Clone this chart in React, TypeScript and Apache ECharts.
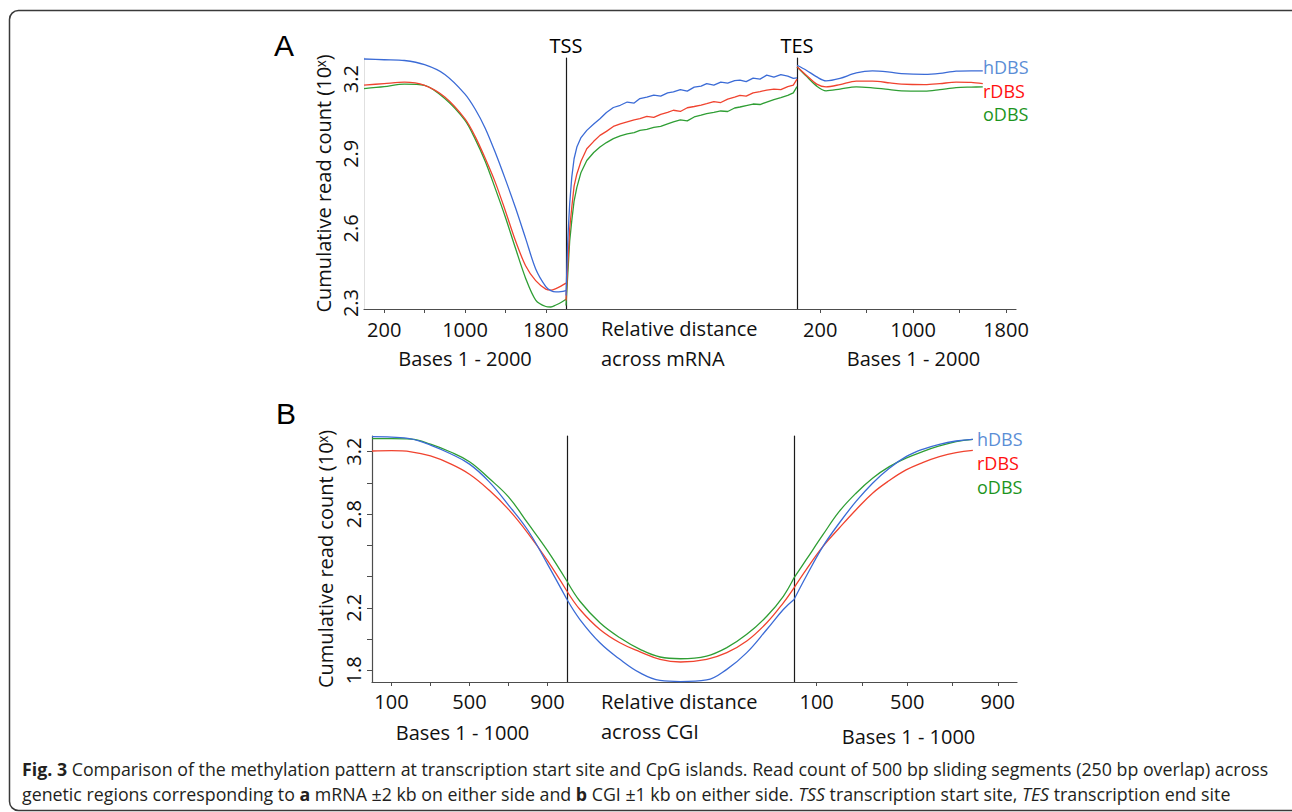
import React, { useEffect, useRef } from "react";
import * as echarts from "echarts";

const FONT = "'Open Sans', sans-serif";

const seriesNames = ["hDBS", "rDBS", "oDBS"];
const lineColors = ["#3b6bd6", "#f0432f", "#2f9e34"];
const labelColors = ["#5b8ed6", "#ff1010", "#1d951d"];

// ---------- Panel A: mRNA ±2 kb ----------
const aTicks = [200, 600, 1000, 1400, 1800];
const aTickLabels = [200, 1000, 1800];
const aYLabels = [2.3, 2.6, 2.9, 3.2];

const aLeftBases = [0, 200, 400, 600, 800, 1000, 1100, 1200, 1300, 1400, 1500, 1600, 1700, 1800, 1850, 1900, 1950, 2000];
const aLeftH = [3.281, 3.278, 3.275, 3.258, 3.219, 3.14, 3.08, 3.003, 2.905, 2.797, 2.683, 2.56, 2.437, 2.366, 2.35, 2.345, 2.346, 2.35];
const aLeftR = [3.176, 3.182, 3.188, 3.175, 3.128, 3.04, 2.97, 2.882, 2.785, 2.67, 2.55, 2.45, 2.39, 2.356, 2.352, 2.358, 2.368, 2.38];
const aLeftO = [3.162, 3.17, 3.18, 3.175, 3.122, 3.034, 2.96, 2.87, 2.76, 2.645, 2.52, 2.4, 2.312, 2.286, 2.284, 2.292, 2.302, 2.315];

const aMidRel = [0, 0.008, 0.016, 0.025, 0.035, 0.047, 0.065, 0.09, 0.12, 0.147, 0.175, 0.205, 0.235, 0.265, 0.295, 0.32, 0.35, 0.38, 0.41, 0.44, 0.465, 0.495, 0.525, 0.555, 0.585, 0.609, 0.64, 0.67, 0.7, 0.73, 0.753, 0.78, 0.81, 0.84, 0.869, 0.9, 0.93, 0.96, 0.984, 1.0];
const aMidH = [2.33, 2.56, 2.7, 2.806, 2.88, 2.927, 2.965, 2.994, 3.02, 3.041, 3.066, 3.086, 3.095, 3.108, 3.104, 3.122, 3.128, 3.136, 3.132, 3.145, 3.149, 3.158, 3.152, 3.168, 3.172, 3.182, 3.176, 3.188, 3.184, 3.194, 3.196, 3.19, 3.204, 3.2, 3.216, 3.208, 3.218, 3.212, 3.203, 3.205];
const aMidR = [2.31, 2.46, 2.6, 2.685, 2.77, 2.819, 2.87, 2.92, 2.95, 2.974, 2.99, 3.01, 3.02, 3.028, 3.036, 3.041, 3.05, 3.046, 3.058, 3.066, 3.075, 3.07, 3.085, 3.09, 3.096, 3.102, 3.11, 3.106, 3.12, 3.128, 3.135, 3.132, 3.145, 3.15, 3.156, 3.16, 3.158, 3.17, 3.176, 3.2];
const aMidO = [2.29, 2.42, 2.55, 2.631, 2.71, 2.765, 2.825, 2.873, 2.905, 2.927, 2.945, 2.961, 2.972, 2.98, 2.985, 2.994, 2.998, 3.006, 3.01, 3.02, 3.028, 3.036, 3.032, 3.048, 3.055, 3.061, 3.066, 3.072, 3.07, 3.084, 3.088, 3.094, 3.1, 3.098, 3.108, 3.118, 3.126, 3.135, 3.145, 3.17];

const aRightBases = [0, 80, 170, 250, 370, 510, 650, 800, 900, 1100, 1230, 1370, 1500, 1600];
const aRightH = [3.256, 3.236, 3.209, 3.193, 3.203, 3.225, 3.233, 3.228, 3.222, 3.219, 3.223, 3.232, 3.233, 3.233];
const aRightR = [3.25, 3.216, 3.18, 3.169, 3.178, 3.192, 3.192, 3.185, 3.18, 3.178, 3.182, 3.188, 3.187, 3.182];
const aRightO = [3.25, 3.212, 3.172, 3.153, 3.16, 3.169, 3.165, 3.158, 3.153, 3.152, 3.158, 3.166, 3.168, 3.169];

// ---------- Panel B: CGI ±1 kb ----------
const bTicks = [100, 300, 500, 700, 900];
const bTickLabels = [100, 500, 900];
const bYTicks = [1.8, 2.0, 2.2, 2.4, 2.6, 2.8, 3.0, 3.2];
const bYLabels = [1.8, 2.2, 2.8, 3.2];

const bLeftBases = [0, 100, 200, 300, 400, 500, 600, 700, 800, 900, 1000];
const bLeftH = [3.296, 3.293, 3.281, 3.242, 3.188, 3.12, 3.008, 2.858, 2.695, 2.48, 2.253];
const bLeftR = [3.204, 3.206, 3.199, 3.172, 3.123, 3.055, 2.954, 2.83, 2.677, 2.502, 2.306];
const bLeftO = [3.283, 3.283, 3.28, 3.248, 3.199, 3.135, 3.029, 2.91, 2.74, 2.566, 2.37];

const bMidRel = [0, 0.057, 0.145, 0.233, 0.322, 0.41, 0.5, 0.615, 0.704, 0.792, 0.88, 0.953, 1.0];
const bMidH = [2.253, 2.125, 1.976, 1.87, 1.783, 1.735, 1.728, 1.738, 1.806, 1.913, 2.061, 2.189, 2.253];
const bMidR = [2.306, 2.189, 2.061, 1.976, 1.918, 1.87, 1.853, 1.87, 1.913, 1.987, 2.104, 2.232, 2.328];
const bMidO = [2.37, 2.242, 2.104, 2.008, 1.934, 1.885, 1.874, 1.891, 1.945, 2.03, 2.146, 2.274, 2.392];

const bRightBases = [0, 54, 128, 200, 274, 347, 421, 495, 568, 642, 716, 790];
const bRightH = [2.253, 2.402, 2.593, 2.743, 2.881, 2.998, 3.094, 3.168, 3.215, 3.247, 3.268, 3.279];
const bRightR = [2.328, 2.445, 2.593, 2.711, 2.828, 2.934, 3.015, 3.083, 3.13, 3.168, 3.194, 3.208];
const bRightO = [2.392, 2.508, 2.668, 2.817, 2.934, 3.03, 3.104, 3.158, 3.2, 3.236, 3.264, 3.279];

const yName = "Cumulative read count (10\u02e3)";

const pairs = (xs: number[], ys: number[]) => xs.map((x, i) => [x, ys[i]]);

function lineSeries(idx: number, xs: number[], ys: number[][], smooth: boolean | number) {
  return [2, 1, 0].map((k) => ({
    type: "line",
    name: seriesNames[k],
    xAxisIndex: idx,
    yAxisIndex: idx,
    data: pairs(xs, ys[k]),
    showSymbol: false,
    symbol: "none",
    smooth,
    lineStyle: { color: lineColors[k], width: 1.3 },
    itemStyle: { color: lineColors[k] },
    silent: true,
  }));
}

const txt = (extra: any = {}) => ({ fontSize: 20, color: "#111", fontFamily: FONT, ...extra });

function baseXAxis(gridIndex: number, min: number, max: number, ticks: number[] | null, labels: number[] | null, name?: string, pad?: number[], gap?: number, margin?: number) {
  return {
    type: "value",
    gridIndex,
    min,
    max,
    axisLine: { show: true, lineStyle: { color: "#4d4d4d", width: 1.2 } },
    axisTick: ticks ? { show: true, customValues: ticks, length: 4, lineStyle: { color: "#4d4d4d" } } : { show: false },
    axisLabel: labels
      ? { show: true, customValues: labels, margin: margin ?? 9, formatter: (v: number) => String(Math.round(v)), ...txt() }
      : { show: false },
    splitLine: { show: false },
    name: name || "",
    nameLocation: "middle",
    nameGap: gap ?? 38,
    nameTextStyle: txt({ padding: pad || [0, 0, 0, 0] }),
  };
}

function dividerYAxis(gridIndex: number, min: number, max: number, name?: string) {
  return {
    type: "value",
    gridIndex,
    min,
    max,
    axisLine: { show: true, lineStyle: { color: "#1a1a1a", width: 1.2 } },
    axisTick: { show: false },
    axisLabel: { show: false },
    splitLine: { show: false },
    name: name || "",
    nameLocation: "end",
    nameGap: 3,
    nameTextStyle: txt({ color: "#000" }),
  };
}

const A_MIN = 2.276, A_MAX = 3.285;
const B_MIN = 1.725, B_MAX = 3.3;

export default function App() {
  const ref = useRef<HTMLDivElement>(null);
  useEffect(() => {
    if (!ref.current) return;
    const chart = echarts.init(ref.current, undefined, { renderer: "svg" });
    const option: any = {
      animation: false,
      backgroundColor: "#ffffff",
      grid: [
        { left: 364, top: 58, width: 202, height: 251 },
        { left: 566, top: 58, width: 231, height: 251 },
        { left: 797, top: 58, width: 219, height: 251 },
        { left: 372, top: 436, width: 195, height: 246 },
        { left: 567, top: 436, width: 227, height: 246 },
        { left: 794, top: 436, width: 223, height: 246 },
      ],
      xAxis: [
        baseXAxis(0, 0, 2000, aTicks, aTickLabels, "Bases 1 - 2000", [0, 0, 0, 0], 39, 10),
        baseXAxis(1, 0, 1, null, null),
        baseXAxis(2, 0, 1886, aTicks, aTickLabels, "Bases 1 - 2000", [0, 0, 0, 14], 39, 10),
        baseXAxis(3, 0, 1000, bTicks, bTickLabels, "Bases 1 - 1000", [0, 14, 0, 0], 40, 9),
        baseXAxis(4, 0, 1, null, null),
        baseXAxis(5, 0, 985, bTicks, bTickLabels, "Bases 1 - 1000", [4, 0, 0, 6], 40, 9),
      ],
      yAxis: [
        {
          type: "value",
          gridIndex: 0,
          min: A_MIN,
          max: A_MAX,
          axisLine: { show: true, lineStyle: { color: "#e0e0e0", width: 1 } },
          axisTick: { show: false },
          axisLabel: { customValues: aYLabels, rotate: 90, margin: 4, formatter: (v: number) => v.toFixed(1), ...txt() },
          splitLine: { show: false },
          name: yName,
          nameLocation: "middle",
          nameRotate: 90,
          nameGap: 31,
          nameTextStyle: txt(),
        },
        dividerYAxis(1, A_MIN, A_MAX, "TSS"),
        dividerYAxis(2, A_MIN, A_MAX, "TES"),
        {
          type: "value",
          gridIndex: 3,
          min: B_MIN,
          max: B_MAX,
          axisLine: { show: true, lineStyle: { color: "#4d4d4d", width: 1.2 } },
          axisTick: { show: true, customValues: bYTicks, length: 5, lineStyle: { color: "#4d4d4d" } },
          axisLabel: { customValues: bYLabels, rotate: 90, margin: 9, formatter: (v: number) => v.toFixed(1), ...txt() },
          splitLine: { show: false },
          name: yName,
          nameLocation: "middle",
          nameRotate: 90,
          nameGap: 37,
          nameTextStyle: txt(),
        },
        dividerYAxis(4, B_MIN, B_MAX),
        dividerYAxis(5, B_MIN, B_MAX),
      ],
      series: [
        ...lineSeries(0, aLeftBases, [aLeftH, aLeftR, aLeftO], 0.3),
        ...lineSeries(1, aMidRel, [aMidH, aMidR, aMidO], false),
        ...lineSeries(2, aRightBases, [aRightH, aRightR, aRightO], 0.3),
        ...lineSeries(3, bLeftBases, [bLeftH, bLeftR, bLeftO], 0.4),
        ...lineSeries(4, bMidRel, [bMidH, bMidR, bMidO], 0.4),
        ...lineSeries(5, bRightBases, [bRightH, bRightR, bRightO], 0.4),
      ],
      graphic: [
        {
          type: "rect",
          shape: { x: 9.5, y: 10.5, width: 1292, height: 800, r: 9 },
          style: { fill: "none", stroke: "#3a3a3a", lineWidth: 1.5 },
          silent: true,
        },
        { type: "text", style: { text: "A", x: 284, y: 45, align: "center", verticalAlign: "middle", fontSize: 30, fontFamily: "'Liberation Sans', Arial, sans-serif", fill: "#000" } },
        { type: "text", style: { text: "B", x: 286, y: 413, align: "center", verticalAlign: "middle", fontSize: 30, fontFamily: "'Liberation Sans', Arial, sans-serif", fill: "#000" } },
        { type: "text", style: { text: "Relative distance\nacross mRNA", x: 601, y: 343, align: "left", verticalAlign: "middle", lineHeight: 30, fontSize: 20, fontFamily: FONT, fill: "#111" } },
        { type: "text", style: { text: "Relative distance\nacross CGI", x: 601, y: 716, align: "left", verticalAlign: "middle", lineHeight: 30, fontSize: 20, fontFamily: FONT, fill: "#111" } },
        ...seriesNames.map((n, i) => ({
          type: "text",
          style: { text: n, x: 983, y: 67 + i * 23.5, align: "left", verticalAlign: "middle", fontSize: 18, fontFamily: FONT, fill: labelColors[i] },
        })),
        ...seriesNames.map((n, i) => ({
          type: "text",
          style: { text: n, x: 977, y: 439 + i * 24, align: "left", verticalAlign: "middle", fontSize: 18, fontFamily: FONT, fill: labelColors[i] },
        })),
        {
          type: "text",
          x: 22,
          y: 756,
          style: {
            text:
              "{b|Fig. 3} Comparison of the methylation pattern at transcription start site and CpG islands. Read count of 500 bp sliding segments (250 bp overlap) across\n" +
              "genetic regions corresponding to {b|a} mRNA \u00b12 kb on either side and {b|b} CGI \u00b11 kb on either side. {i|TSS} transcription start site, {i|TES} transcription end site",
            x: 0,
            y: 0,
            align: "left",
            verticalAlign: "top",
            fontSize: 17.8,
            lineHeight: 25,
            fontFamily: FONT,
            fill: "#231f20",
            rich: {
              b: { fontSize: 17.8, lineHeight: 25, fontFamily: FONT, fontWeight: "bold", fill: "#231f20" },
              i: { fontSize: 17.8, lineHeight: 25, fontFamily: FONT, fontStyle: "italic", fill: "#231f20" },
            },
          },
        },
      ],
    };
    chart.setOption(option);
    return () => chart.dispose();
  }, []);
  return <div ref={ref} style={{ position: "fixed", left: 0, top: 0, width: 1292, height: 812, background: "#fff" }} />;
}
